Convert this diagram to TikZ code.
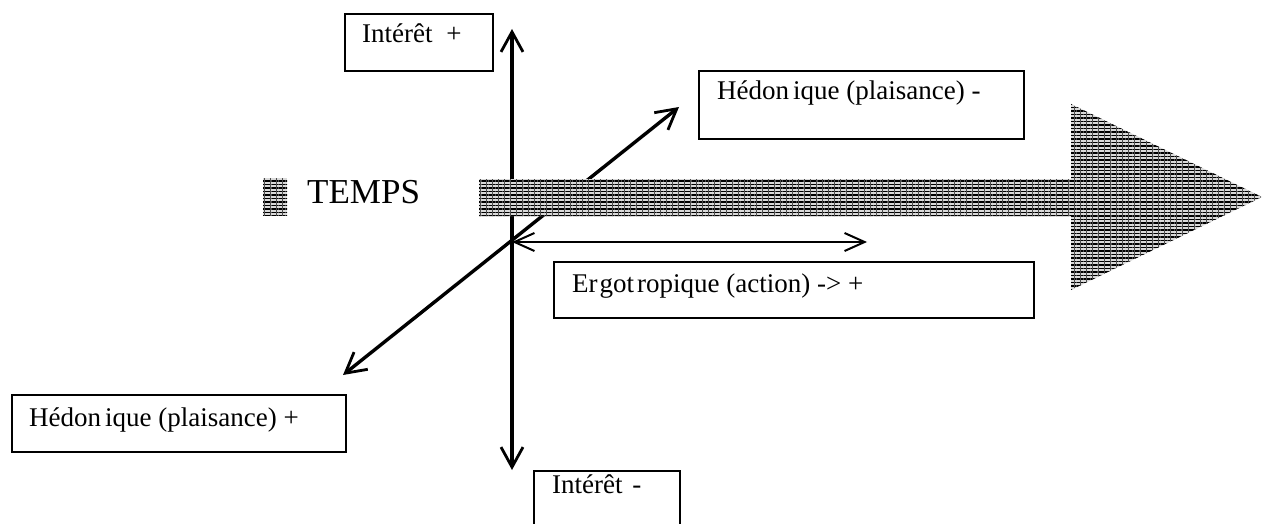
\documentclass[tikz,border=0pt]{standalone}
\usepackage{fontspec}
\setmainfont{Liberation Serif}
\usetikzlibrary{arrows.meta,patterns.meta}

\begin{document}
\begin{tikzpicture}[x=1pt,y=-1pt,
  box/.style={draw,line width=2pt,anchor=north west,inner sep=0pt},
  lbl/.style={anchor=base west,inner sep=0pt,font=\fontsize{27}{31}\selectfont},
  barb/.tip={Straight Barb[length=20pt,width=22pt,line width=2.8pt]},
  thinbarb/.tip={Straight Barb[length=20pt,width=18pt,line width=2pt]},
  axis/.style={line width=3.4pt,barb-barb},
  thinaxis/.style={line width=1.8pt,thinbarb-thinbarb},
  hatch/.style={fill=gray!30,
    postaction={pattern={Lines[angle=0,distance=3.5pt,line width=1.2pt]},pattern color=black},
    postaction={pattern={Lines[angle=90,distance=6pt,line width=0.5pt]},pattern color=black!70}}
]
\clip (0,0) rectangle (1263,524);
\fill[white] (0,0) rectangle (1263,524);

% axis crossing and axis ends
\coordinate (O) at (512,242);
\coordinate (up) at (512,29);
\coordinate (down) at (512,470);
\coordinate (ne) at (679,107);
\coordinate (sw) at (343,375);
\coordinate (east) at (867,242);

% axes
\draw[axis] (down) -- (up);
\draw[axis] (sw) -- (ne);
\draw[thinaxis] (O) -- (east);

% time arrow, drawn over the axes
\path[hatch] (479,179) -- (1071,179) -- (1071,104) -- (1262,197)
  -- (1071,290) -- (1071,216) -- (479,216) -- cycle;
\path[hatch] (263,178) rectangle (287,215);
\node[anchor=base west,inner sep=0pt,font=\fontsize{35}{40}\selectfont] (temps) at (307,203) {TEMPS};

% label boxes
\node[box,minimum width=148pt,minimum height=57pt] (bIp) at (344,13) {};
\node[lbl] (tIp) at (362,43) {Intérêt \kern7pt+};

\node[box,minimum width=325pt,minimum height=68pt] (bHm) at (698,70) {};
\node[lbl] (tHm) at (717,100) {Hédon\kern4pt ique (plaisance) -};

\node[box,minimum width=480pt,minimum height=56pt] (bE) at (553,261) {};
\node[lbl] (tE) at (572,292) {Er\kern2pt got\kern3pt ropique (action) -> +};

\node[box,minimum width=334pt,minimum height=57pt] (bHp) at (11,394) {};
\node[lbl] (tHp) at (29,426) {Hédon\kern4pt ique (plaisance) +};

\node[box,minimum width=146pt,minimum height=80pt] (bIm) at (533,470) {};
\node[lbl] (tIm) at (552,493) {Intérêt \kern3pt-};
\end{tikzpicture}
\end{document}
